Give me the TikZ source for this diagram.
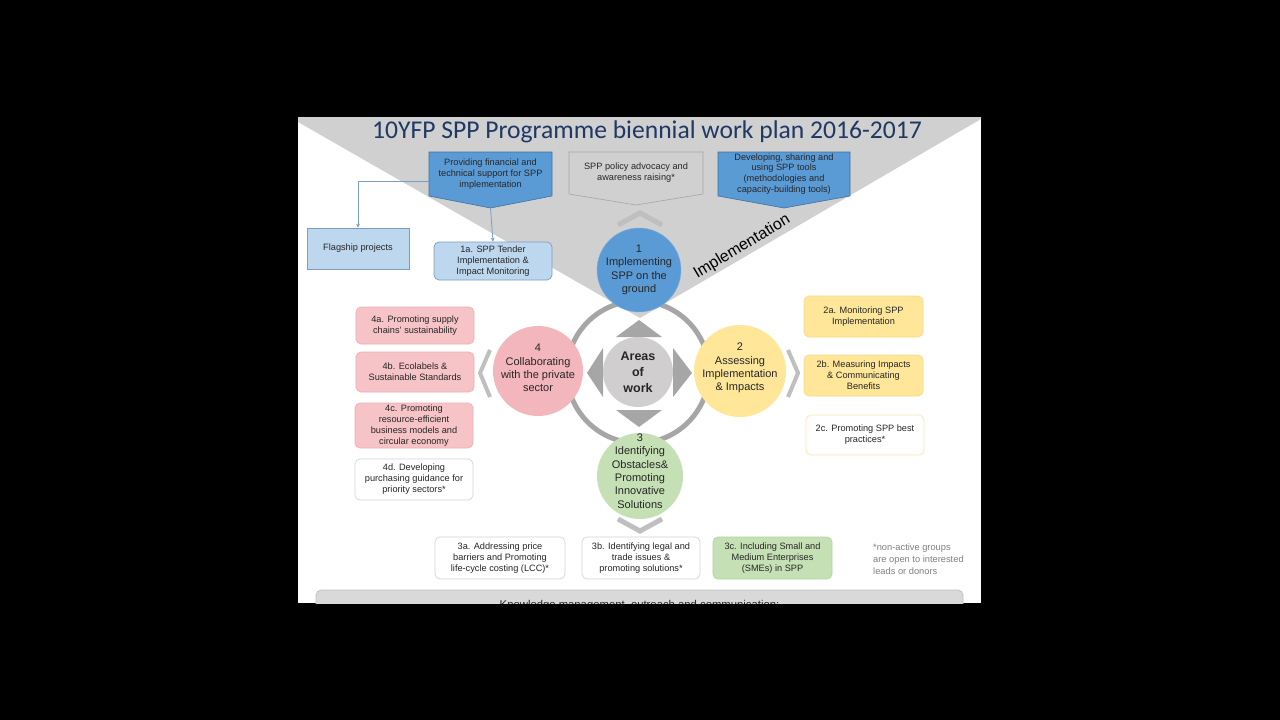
\documentclass[tikz,border=0pt]{standalone}
\usepackage{fontspec}
\setmainfont{Liberation Sans}
\newfontfamily\titlefont{Carlito}
\usepackage{xcolor}
\usepackage{tikz}
\usetikzlibrary{arrows.meta, positioning, calc}

\definecolor{trigray}{HTML}{D0D0D0}
\definecolor{titleblue}{HTML}{1F3864}
\definecolor{midblue}{HTML}{5B9BD5}
\definecolor{darkblue}{HTML}{41719C}
\definecolor{paleblue}{HTML}{BDD7EE}
\definecolor{paleblueline}{HTML}{7A9CC6}
\definecolor{pinkfill}{HTML}{F6C3C7}
\definecolor{pinkline}{HTML}{F0AEB4}
\definecolor{pinkcirc}{HTML}{F4B6BD}
\definecolor{yellowfill}{HTML}{FFE699}
\definecolor{yellowline}{HTML}{F5DC8A}
\definecolor{greenfill}{HTML}{C5E0B4}
\definecolor{greenline}{HTML}{B2D49D}
\definecolor{ringgray}{HTML}{A6A6A6}
\definecolor{chevgray}{HTML}{BFBFBF}
\definecolor{centergray}{HTML}{D0CECE}
\definecolor{boxline}{HTML}{D3D3D3}
\definecolor{txt}{HTML}{262626}

\tikzset{
  box/.style={rounded corners=5pt, draw, line width=0.7pt, align=center,
    inner sep=1pt, text=txt, font=\fontsize{9.2}{10.9}\selectfont},
  pinkbox/.style={box, fill=pinkfill, draw=pinkline},
  yellowbox/.style={box, fill=yellowfill, draw=yellowline},
  greenbox/.style={box, fill=greenfill, draw=greenline},
  whitebox/.style={box, fill=white, draw=boxline},
  bluebox/.style={box, fill=paleblue, draw=paleblueline},
  topbox/.style={align=center, inner sep=1pt, text=txt, font=\fontsize{9.2}{10.9}\selectfont},
  area/.style={circle, inner sep=0pt, minimum size=#1},
  areatext/.style={align=center, text=txt, inner sep=0pt, font=\fontsize{11}{13.4}\selectfont},
  chev/.style={chevgray, line width=5pt, miter limit=10},
  link/.style={paleblueline, line width=0.8pt, -{Stealth[length=4pt,width=4pt]}},
}

\begin{document}
\begin{tikzpicture}[x=1pt, y=-1pt]
  \useasboundingbox (0,0) rectangle (1280,720);
  \fill[black] (0,0) rectangle (1280,720);

  \begin{scope}
    \clip (298,117) rectangle (981,603);
    % Slide
    \fill[white] (298,117) rectangle (981,603);
    \fill[trigray] (298,117) -- (298,122) -- (640,318) -- (981,119) -- (981,117) -- cycle;

    % Titolo
    \node[text=titleblue, font=\titlefont\fontsize{25.6}{28}\selectfont] (title) at (647,132)
      {10YFP SPP Programme biennial work plan 2016-2017};

    % Tre riquadri in alto
    \coordinate (fin) at (490.5,174);
    \coordinate (adv) at (636,173);
    \coordinate (tools) at (784,174);
    \filldraw[fill=midblue, draw=darkblue, line width=0.6pt] (429,152) -- (552,152) -- (552,196)
      -- (490.5,208) -- (429,196) -- cycle;
    \filldraw[fill=trigray, draw=ringgray, line width=0.6pt] (569,152) -- (703,152) -- (703,194)
      -- (636,205) -- (569,194) -- cycle;
    \filldraw[fill=midblue, draw=darkblue, line width=0.6pt] (718,152) -- (850,152) -- (850,196)
      -- (784,208) -- (718,196) -- cycle;
    \node[topbox, minimum width=123pt, minimum height=44pt] (finb) at (fin)
      {Providing financial and\\technical support for SPP\\implementation};
    \node[topbox, minimum width=134pt, minimum height=42pt] (advb) at (adv)
      {SPP policy advocacy and\\awareness raising*};
    \node[topbox, minimum width=132pt, minimum height=44pt] (toolsb) at (tools)
      {Developing, sharing and\\using SPP tools\\(methodologies and\\capacity-building tools)};
    \coordinate (fintip) at (490.5,208);

    % Flagship e 1a
    \node[bluebox, rounded corners=0pt, minimum width=102pt, minimum height=41pt] (flag) at (358,248.5) {Flagship projects};
    \node[bluebox, minimum width=118pt, minimum height=38pt] (t1a) at (493,261)
      {1a. SPP Tender\\Implementation \&\\Impact Monitoring};
    \draw[link] ([yshift=-7pt]finb.west) -| (flag.north);
    \draw[link] (fintip) -- (t1a.north);

    \node[rotate=31, font=\fontsize{16}{16}\selectfont, text=black] (impl) at (742,247) {Implementation};

    % Anello e frecce
    \coordinate (ctr) at (638,372);
    \draw[ringgray, line width=5pt] (ctr) circle (71);
    \fill[ringgray] (616,337) -- (639,320) -- (662,337) -- cycle;
    \fill[ringgray] (603,348) -- (587,373) -- (603,397) -- cycle;
    \fill[ringgray] (673,348) -- (692,373) -- (673,397) -- cycle;
    \fill[ringgray] (616,410) -- (639,427) -- (662,410) -- cycle;

    % Chevron
    \draw[chev] (618,225) -- (640,213) -- (662,225);
    \draw[chev, line width=4pt] (490,350) -- (480,373) -- (490,397);
    \draw[chev, line width=4pt] (788,350) -- (798,373) -- (788,397);
    \draw[chev] (618,519) -- (640,531) -- (662,519);

    % Cerchi
    \node[area=84pt, fill=midblue, draw=midblue!80!white] (a1) at (639,270) {};
    \node[area=92pt, fill=yellowfill] (a2) at (740,371) {};
    \node[area=86pt, fill=greenfill] (a3) at (640,476) {};
    \node[area=90pt, fill=pinkcirc] (a4) at (538,371) {};
    \node[area=70pt, fill=centergray] (aw) at (ctr) {};
    \node[areatext] (a1t) at (a1) {1\\Implementing\\SPP on the\\ground};
    \node[areatext] (a2t) at ([yshift=3pt]a2) {2\\Assessing\\Implementation\\\& Impacts};
    \node[areatext] (a3t) at ([yshift=5pt]a3) {3\\Identifying\\Obstacles\&\\Promoting\\Innovative\\Solutions};
    \node[areatext] (a4t) at ([yshift=3pt]a4) {4\\Collaborating\\with the private\\sector};
    \node[areatext, font=\bfseries\fontsize{12.5}{16}\selectfont] (awt) at (aw) {Areas\\of\\work};

    % Riquadri 4
    \node[pinkbox, minimum width=118pt, minimum height=37pt] (b4a) at (415,325.5)
      {4a. Promoting supply\\chains' sustainability};
    \node[pinkbox, minimum width=118pt, minimum height=40pt] (b4b) at (415,372)
      {4b. Ecolabels \&\\Sustainable Standards};
    \node[pinkbox, minimum width=118pt, minimum height=45pt] (b4c) at (414,425.5)
      {4c. Promoting\\resource-efficient\\business models and\\circular economy};
    \node[whitebox, minimum width=118pt, minimum height=41pt] (b4d) at (414,479.5)
      {4d. Developing\\purchasing guidance for\\priority sectors*};

    % Riquadri 2
    \node[yellowbox, minimum width=119pt, minimum height=41pt] (b2a) at (863.5,316.5)
      {2a. Monitoring SPP\\Implementation};
    \node[yellowbox, minimum width=119pt, minimum height=41pt] (b2b) at (863.5,375.5)
      {2b. Measuring Impacts\\\& Communicating\\Benefits};
    \node[whitebox, draw=yellowline!70!white, minimum width=118pt, minimum height=40pt] (b2c) at (865,435)
      {2c. Promoting SPP best\\practices*};

    % Riquadri 3
    \node[whitebox, minimum width=130pt, minimum height=42pt] (b3a) at (500,558)
      {3a. Addressing price\\barriers and Promoting\\life-cycle costing (LCC)*};
    \node[whitebox, minimum width=118pt, minimum height=42pt] (b3b) at (641,558)
      {3b. Identifying legal and\\trade issues \&\\promoting solutions*};
    \node[greenbox, minimum width=119pt, minimum height=42pt] (b3c) at (772.5,558)
      {3c. Including Small and\\Medium Enterprises\\(SMEs) in SPP};

    % Nota
    \node[anchor=west, align=left, text=black!50, inner sep=0pt, font=\fontsize{9.3}{12}\selectfont] (note) at (873,559)
      {*non-active groups\\are open to interested\\leads or donors};

    % Barra in basso
    \node[box, fill=black!15, draw=chevgray, minimum width=647pt, minimum height=32pt, font=\fontsize{11.3}{13}\selectfont] (km) at (639.5,606)
      {Knowledge management, outreach and communication:};
  \end{scope}
\end{tikzpicture}
\end{document}
